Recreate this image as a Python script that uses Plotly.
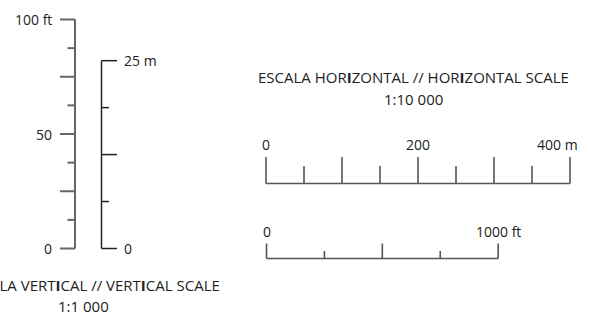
import plotly.graph_objects as go

# ---- data ----
ft_vert_ticks = [0, 12.5, 25, 37.5, 50, 62.5, 75, 87.5, 100]
ft_vert_major = [0, 25, 50, 75, 100]
ft_vert_labels = [(0, "0"), (50, "50"), (100, "100 ft")]

m_vert_ticks = [0, 6.25, 12.5, 18.75, 25]
m_vert_major = [0, 12.5, 25]
m_vert_labels = [(0, "0"), (25, "25 m")]

m_horiz_ticks = [0, 50, 100, 150, 200, 250, 300, 350, 400]
m_horiz_major = [0, 100, 200, 300, 400]
m_horiz_labels = [(0, "0"), (200, "200"), (400, "400 m")]

ft_horiz_ticks = [0, 250, 500, 750, 1000]
ft_horiz_major = [0, 500, 1000]
ft_horiz_labels = [(0, "0"), (1000, "1000 ft")]

h_title = "ESCALA HOR<b>I</b>ZONTAL // HOR<b>I</b>ZONTAL SCALE"
h_ratio = "1:10 000"
v_title = "ESCALA VERT<b>I</b>CAL // VERT<b>I</b>CAL SCALE"
v_ratio = "1:1 000"

# ---- layout geometry (pixels) ----
W, H = 589, 315
FONT = "Open Sans"
TXT = "#222222"
LINE = "#555555"

# pixel scales
ft_v0, ft_vpx = 248.5, 2.29       # y pixel of 0 ft, px per ft
m_v0, m_vpx = 248.5, 2.29 * 3.2808
m_h0, m_hpx = 266.0, 0.76
ft_h0, ft_hpx = 266.5, 0.76 * 0.3048

ft_vx, m_vx = 75.0, 101.5
m_hy, ft_hy = 183.5, 258.5

fig = go.Figure()


def add_line(xs, ys, xaxis, yaxis, color, width):
    fig.add_trace(go.Scatter(x=xs, y=ys, mode="lines", xaxis=xaxis, yaxis=yaxis,
                             line=dict(color=color, width=width), hoverinfo="skip",
                             showlegend=False))


# vertical ft scale
xs, ys = [ft_vx, ft_vx, None], [ft_vert_ticks[0], ft_vert_ticks[-1], None]
for t in ft_vert_ticks:
    xs += [ft_vx - (15 if t in ft_vert_major else 7.5), ft_vx, None]
    ys += [t, t, None]
add_line(xs, ys, "x", "y2", "#666666", 2)

# vertical m scale
xs, ys = [m_vx, m_vx, None], [m_vert_ticks[0], m_vert_ticks[-1], None]
for t in m_vert_ticks:
    xs += [m_vx, m_vx + (15.5 if t in m_vert_major else 7.5), None]
    ys += [t, t, None]
add_line(xs, ys, "x", "y3", "#222222", 1.5)

# horizontal m scale
xs, ys = [m_horiz_ticks[0], m_horiz_ticks[-1], None], [m_hy, m_hy, None]
for t in m_horiz_ticks:
    xs += [t, t, None]
    ys += [m_hy, m_hy - (26.5 if t in m_horiz_major else 17.5), None]
add_line(xs, ys, "x2", "y", LINE, 1.6)

# horizontal ft scale
xs, ys = [ft_horiz_ticks[0], ft_horiz_ticks[-1], None], [ft_hy, ft_hy, None]
for t in ft_horiz_ticks:
    xs += [t, t, None]
    ys += [ft_hy, ft_hy - (15 if t in ft_horiz_major else 7.5), None]
add_line(xs, ys, "x3", "y", LINE, 1.6)

ann = []
fnt = dict(family=FONT, size=14, color=TXT)
tfnt = dict(family=FONT, size=15, color=TXT)
for v, s in ft_vert_labels:
    ann.append(dict(x=54, y=v, xref="x", yref="y2", text=s, xanchor="right",
                    yanchor="middle", showarrow=False, font=fnt))
for v, s in m_vert_labels:
    ann.append(dict(x=122, y=v, xref="x", yref="y3", text=s, xanchor="left",
                    yanchor="middle", showarrow=False, font=fnt))
for v, s in m_horiz_labels:
    last = v == m_horiz_labels[-1][0]
    ann.append(dict(x=v, y=144, xref="x2", yref="y", text=s,
                    xanchor="right" if last else "center", xshift=10 if last else 0,
                    yanchor="middle", showarrow=False, font=fnt))
for v, s in ft_horiz_labels:
    ann.append(dict(x=v, y=231.5, xref="x3", yref="y", text=s, xanchor="center",
                    yanchor="middle", showarrow=False, font=fnt))
ann.append(dict(x=413, y=77, xref="x", yref="y", text=h_title, showarrow=False, font=tfnt))
ann.append(dict(x=413, y=99, xref="x", yref="y", text=h_ratio, showarrow=False, font=tfnt))
ann.append(dict(x=92, y=285, xref="x", yref="y", text=v_title, showarrow=False, font=tfnt))
ann.append(dict(x=83, y=306, xref="x", yref="y", text=v_ratio, showarrow=False, font=tfnt))

hidden = dict(visible=False, showgrid=False, zeroline=False, fixedrange=True)
fig.update_layout(
    width=W, height=H, margin=dict(l=0, r=0, t=0, b=0, pad=0),
    paper_bgcolor="white", plot_bgcolor="rgba(0,0,0,0)", showlegend=False,
    xaxis=dict(range=[0, W], domain=[0, 1], **hidden),
    yaxis=dict(range=[H, 0], domain=[0, 1], **hidden),
    xaxis2=dict(range=[-m_h0 / m_hpx, (W - m_h0) / m_hpx], overlaying="x", **hidden),
    xaxis3=dict(range=[-ft_h0 / ft_hpx, (W - ft_h0) / ft_hpx], overlaying="x", **hidden),
    yaxis2=dict(range=[(ft_v0 - H) / ft_vpx, ft_v0 / ft_vpx], overlaying="y", **hidden),
    yaxis3=dict(range=[(m_v0 - H) / m_vpx, m_v0 / m_vpx], overlaying="y", **hidden),
    annotations=ann,
)
fig.write_html("out.html", post_script="document.body.style.margin='0';",
               config={"displayModeBar": False})
